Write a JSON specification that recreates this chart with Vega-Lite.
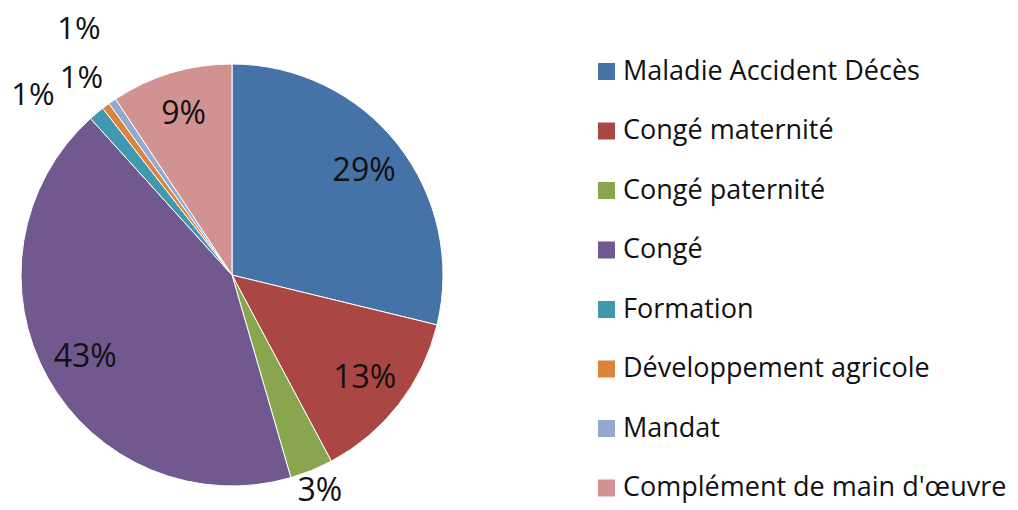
{
  "$schema": "https://vega.github.io/schema/vega-lite/v6.json",
  "width": 464,
  "height": 470,
  "autosize": {"type": "none"},
  "padding": {"top": 40, "left": 0, "right": 554, "bottom": 0},
  "background": "white",
  "config": {"view": {"stroke": null}, "font": "Open Sans"},
  "data": {
    "values": [
      {"cat": "Maladie Accident Décès", "v": 0.288, "o": 1},
      {"cat": "Congé maternité", "v": 0.134, "o": 2},
      {"cat": "Congé paternité", "v": 0.033, "o": 3},
      {"cat": "Congé", "v": 0.428, "o": 4},
      {"cat": "Formation", "v": 0.012, "o": 5},
      {"cat": "Développement agricole", "v": 0.006, "o": 6},
      {"cat": "Mandat", "v": 0.006, "o": 7},
      {"cat": "Complément de main d'œuvre", "v": 0.093, "o": 8}
    ]
  },
  "encoding": {
    "theta": {"field": "v", "type": "quantitative", "stack": true},
    "order": {"field": "o", "type": "quantitative"}
  },
  "layer": [
    {
      "mark": {"type": "arc", "outerRadius": 211, "stroke": "white", "strokeWidth": 1},
      "encoding": {
        "color": {
          "field": "cat",
          "type": "nominal",
          "sort": null,
          "scale": {
            "domain": ["Maladie Accident Décès", "Congé maternité", "Congé paternité", "Congé", "Formation", "Développement agricole", "Mandat", "Complément de main d'œuvre"],
            "range": ["#4572A7", "#AA4643", "#89A54E", "#71588F", "#4198AF", "#DB843D", "#93A9CF", "#D19392"]
          },
          "legend": {
            "title": null,
            "orient": "none",
            "legendX": 593,
            "legendY": 18,
            "symbolType": "square",
            "symbolSize": 289,
            "symbolStrokeWidth": 0,
            "labelFontSize": 27,
            "labelFont": "Open Sans",
            "labelColor": "#111111",
            "labelOffset": 3,
            "rowPadding": 31.5,
            "labelLimit": 500,
            "padding": 0
          }
        }
      }
    },
    {
      "mark": {"type": "text", "radius": 168, "fontSize": 32, "color": "#111111", "align": "center", "baseline": "middle"},
      "encoding": {
        "text": {
          "condition": {"test": "datum.o == 1 || datum.o == 2 || datum.o == 4 || datum.o == 8", "field": "v", "type": "quantitative", "format": ".0%"},
          "value": ""
        }
      }
    },
    {
      "mark": {"type": "text", "radius": 233, "fontSize": 32, "color": "#111111", "align": "center", "baseline": "middle"},
      "encoding": {
        "text": {
          "condition": {"test": "datum.o == 3", "field": "v", "type": "quantitative", "format": ".0%"},
          "value": ""
        }
      }
    },
    {
      "mark": {"type": "text", "radius": 268, "thetaOffset": -0.14, "fontSize": 31, "color": "#111111", "align": "center", "baseline": "middle"},
      "encoding": {
        "text": {
          "condition": {"test": "datum.o == 5", "field": "v", "type": "quantitative", "format": ".0%"},
          "value": ""
        }
      }
    },
    {
      "mark": {"type": "text", "radius": 247, "thetaOffset": -0.015, "fontSize": 31, "color": "#111111", "align": "center", "baseline": "middle"},
      "encoding": {
        "text": {
          "condition": {"test": "datum.o == 6", "field": "v", "type": "quantitative", "format": ".0%"},
          "value": ""
        }
      }
    },
    {
      "mark": {"type": "text", "radius": 289, "thetaOffset": 0.045, "fontSize": 31, "color": "#111111", "align": "center", "baseline": "middle"},
      "encoding": {
        "text": {
          "condition": {"test": "datum.o == 7", "field": "v", "type": "quantitative", "format": ".0%"},
          "value": ""
        }
      }
    }
  ]
}
